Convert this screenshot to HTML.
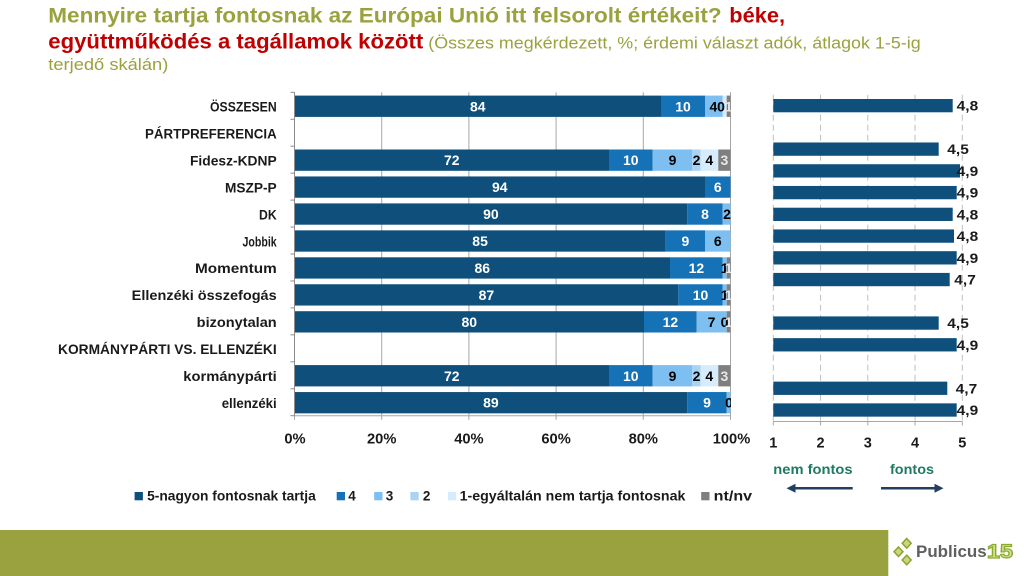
<!DOCTYPE html>
<html>
<head>
<meta charset="utf-8">
<style>
  html,body{margin:0;padding:0;background:#fff;}
  svg{display:block;}
  text{font-family:"Liberation Sans", "DejaVu Sans", sans-serif;}
  .b{font-weight:bold;}
</style>
</head>
<body>
<svg width="1024" height="576" viewBox="0 0 1024 576" xmlns="http://www.w3.org/2000/svg">
  <rect x="0" y="0" width="1024" height="576" fill="#ffffff"/>

  <!-- Title -->
  <text class="b" x="48.3" y="22.5" font-size="21" fill="#9aa23e" textLength="673.4" lengthAdjust="spacingAndGlyphs">Mennyire tartja fontosnak az Európai Unió itt felsorolt értékeit?</text>
  <text class="b" x="729.3" y="22.5" font-size="21" fill="#c00000" textLength="55.7" lengthAdjust="spacingAndGlyphs">béke,</text>
  <text class="b" x="48.3" y="48.5" font-size="21" fill="#c00000" textLength="375" lengthAdjust="spacingAndGlyphs">együttműködés a tagállamok között</text>
  <text x="428.3" y="48.5" font-size="16.5" fill="#9aa23e" textLength="492.4" lengthAdjust="spacingAndGlyphs">(Összes megkérdezett, %; érdemi választ adók, átlagok 1-5-ig</text>
  <text x="48.3" y="70" font-size="16.5" fill="#9aa23e" textLength="120" lengthAdjust="spacingAndGlyphs">terjedő skálán)</text>

  <!-- Left chart gridlines -->
  <g stroke="#a6a6a6" stroke-width="1">
    <line x1="381.7" y1="92.3" x2="381.7" y2="419.7"/>
    <line x1="468.9" y1="92.3" x2="468.9" y2="419.7"/>
    <line x1="556.1" y1="92.3" x2="556.1" y2="419.7"/>
    <line x1="643.3" y1="92.3" x2="643.3" y2="419.7"/>
    <line x1="730.5" y1="92.3" x2="730.5" y2="419.7"/>
    <line x1="294.5" y1="415.7" x2="730.5" y2="415.7"/>
    <line x1="294.5" y1="415.7" x2="294.5" y2="419.7"/>
  </g>
  <g stroke="#8c8c8c" stroke-width="1">
    <line x1="294.5" y1="92.3" x2="294.5" y2="415.7"/>
    <line x1="290.5" y1="92.3" x2="294.5" y2="92.3"/>
    <line x1="290.5" y1="119.25" x2="294.5" y2="119.25"/>
    <line x1="290.5" y1="146.2" x2="294.5" y2="146.2"/>
    <line x1="290.5" y1="173.15" x2="294.5" y2="173.15"/>
    <line x1="290.5" y1="200.1" x2="294.5" y2="200.1"/>
    <line x1="290.5" y1="227.05" x2="294.5" y2="227.05"/>
    <line x1="290.5" y1="254" x2="294.5" y2="254"/>
    <line x1="290.5" y1="280.95" x2="294.5" y2="280.95"/>
    <line x1="290.5" y1="307.9" x2="294.5" y2="307.9"/>
    <line x1="290.5" y1="334.85" x2="294.5" y2="334.85"/>
    <line x1="290.5" y1="361.8" x2="294.5" y2="361.8"/>
    <line x1="290.5" y1="388.75" x2="294.5" y2="388.75"/>
    <line x1="290.5" y1="415.7" x2="294.5" y2="415.7"/>
  </g>

  <defs>
    <clipPath id="plot"><rect x="294.5" y="90" width="436.5" height="330"/></clipPath>
  </defs>

  <!-- Left stacked bars -->
  <g clip-path="url(#plot)">
    <rect x="295" y="95.6" width="366" height="21.3" fill="#0e4f7b"/>
    <rect x="661" y="95.6" width="44" height="21.3" fill="#1572b6"/>
    <rect x="705" y="95.6" width="17.7" height="21.3" fill="#7dbff0"/>
    <rect x="722.7" y="95.6" width="4" height="21.3" fill="#d6ebfb"/>
    <rect x="726.7" y="95.6" width="3.8" height="21.3" fill="#7f7f7f"/>

    <rect x="295" y="149.5" width="314" height="21.3" fill="#0e4f7b"/>
    <rect x="609" y="149.5" width="43.7" height="21.3" fill="#1572b6"/>
    <rect x="652.7" y="149.5" width="39.6" height="21.3" fill="#7dbff0"/>
    <rect x="692.3" y="149.5" width="8.4" height="21.3" fill="#a9d3f5"/>
    <rect x="700.7" y="149.5" width="17.6" height="21.3" fill="#d6ebfb"/>
    <rect x="718.3" y="149.5" width="12.2" height="21.3" fill="#7f7f7f"/>

    <rect x="295" y="176.45" width="410" height="21.3" fill="#0e4f7b"/>
    <rect x="705" y="176.45" width="25.5" height="21.3" fill="#1572b6"/>

    <rect x="295" y="203.4" width="392.3" height="21.3" fill="#0e4f7b"/>
    <rect x="687.3" y="203.4" width="35.4" height="21.3" fill="#1572b6"/>
    <rect x="722.7" y="203.4" width="7.8" height="21.3" fill="#7dbff0"/>

    <rect x="295" y="230.35" width="370.7" height="21.3" fill="#0e4f7b"/>
    <rect x="665.7" y="230.35" width="39.3" height="21.3" fill="#1572b6"/>
    <rect x="705" y="230.35" width="25.5" height="21.3" fill="#7dbff0"/>

    <rect x="295" y="257.3" width="375" height="21.3" fill="#0e4f7b"/>
    <rect x="670" y="257.3" width="52.7" height="21.3" fill="#1572b6"/>
    <rect x="722.7" y="257.3" width="4" height="21.3" fill="#7dbff0"/>
    <rect x="726.7" y="257.3" width="3.8" height="21.3" fill="#7f7f7f"/>

    <rect x="295" y="284.25" width="383.3" height="21.3" fill="#0e4f7b"/>
    <rect x="678.3" y="284.25" width="44.4" height="21.3" fill="#1572b6"/>
    <rect x="722.7" y="284.25" width="4" height="21.3" fill="#7dbff0"/>
    <rect x="726.7" y="284.25" width="3.8" height="21.3" fill="#7f7f7f"/>

    <rect x="295" y="311.2" width="349" height="21.3" fill="#0e4f7b"/>
    <rect x="644" y="311.2" width="52.7" height="21.3" fill="#1572b6"/>
    <rect x="696.7" y="311.2" width="30" height="21.3" fill="#7dbff0"/>
    <rect x="726.7" y="311.2" width="3.8" height="21.3" fill="#7f7f7f"/>

    <rect x="295" y="365.1" width="314" height="21.3" fill="#0e4f7b"/>
    <rect x="609" y="365.1" width="43.7" height="21.3" fill="#1572b6"/>
    <rect x="652.7" y="365.1" width="39.6" height="21.3" fill="#7dbff0"/>
    <rect x="692.3" y="365.1" width="8.4" height="21.3" fill="#a9d3f5"/>
    <rect x="700.7" y="365.1" width="17.6" height="21.3" fill="#d6ebfb"/>
    <rect x="718.3" y="365.1" width="12.2" height="21.3" fill="#7f7f7f"/>

    <rect x="295" y="392.05" width="392.3" height="21.3" fill="#0e4f7b"/>
    <rect x="687.3" y="392.05" width="39.4" height="21.3" fill="#1572b6"/>
    <rect x="726.7" y="392.05" width="3.8" height="21.3" fill="#7dbff0"/>

    <g class="b" font-size="14" text-anchor="middle" font-weight="bold">
      <text x="477.8" y="111.25" fill="#fff">84</text>
      <text x="683" y="111.25" fill="#fff">10</text>
      <text x="713.4" y="111.25" fill="#000">4</text>
      <text x="721" y="111.25" fill="#000">0</text>
      <text x="728.7" y="111.25" fill="#e8e8e8">1</text>

      <text x="451.8" y="165.15" fill="#fff">72</text>
      <text x="630.8" y="165.15" fill="#fff">10</text>
      <text x="672.5" y="165.15" fill="#000">9</text>
      <text x="696.5" y="165.15" fill="#000">2</text>
      <text x="709.3" y="165.15" fill="#000">4</text>
      <text x="724.4" y="165.15" fill="#e8e8e8">3</text>

      <text x="499.8" y="192.1" fill="#fff">94</text>
      <text x="717.8" y="192.1" fill="#fff">6</text>

      <text x="490.9" y="219.05" fill="#fff">90</text>
      <text x="705" y="219.05" fill="#fff">8</text>
      <text x="727" y="219.05" fill="#000">2</text>

      <text x="480.1" y="246" fill="#fff">85</text>
      <text x="685.4" y="246" fill="#fff">9</text>
      <text x="717.8" y="246" fill="#000">6</text>

      <text x="482.3" y="272.95" fill="#fff">86</text>
      <text x="696.4" y="272.95" fill="#fff">12</text>
      <text x="724.7" y="272.95" fill="#000">1</text>
      <text x="728.7" y="272.95" fill="#e8e8e8">1</text>

      <text x="486.4" y="299.9" fill="#fff">87</text>
      <text x="700.5" y="299.9" fill="#fff">10</text>
      <text x="724.7" y="299.9" fill="#000">1</text>
      <text x="728.7" y="299.9" fill="#e8e8e8">1</text>

      <text x="469.3" y="326.85" fill="#fff">80</text>
      <text x="670.4" y="326.85" fill="#fff">12</text>
      <text x="711.5" y="326.85" fill="#000">7</text>
      <text x="724.5" y="326.85" fill="#000">0</text>
      <text x="728.7" y="326.85" fill="#e8e8e8">1</text>

      <text x="451.8" y="380.75" fill="#fff">72</text>
      <text x="630.8" y="380.75" fill="#fff">10</text>
      <text x="672.5" y="380.75" fill="#000">9</text>
      <text x="696.5" y="380.75" fill="#000">2</text>
      <text x="709.3" y="380.75" fill="#000">4</text>
      <text x="724.4" y="380.75" fill="#e8e8e8">3</text>

      <text x="490.9" y="407.7" fill="#fff">89</text>
      <text x="707" y="407.7" fill="#fff">9</text>
      <text x="729" y="407.7" fill="#000">0</text>
    </g>
  </g>

  <!-- Left category labels -->
  <g class="b" font-size="13.5" fill="#1a1a1a" font-weight="bold">
    <text x="210" y="111.5" textLength="66.7" lengthAdjust="spacingAndGlyphs">ÖSSZESEN</text>
    <text x="145" y="138.45" textLength="131.7" lengthAdjust="spacingAndGlyphs">PÁRTPREFERENCIA</text>
    <text x="190" y="165.4" textLength="86.7" lengthAdjust="spacingAndGlyphs">Fidesz-KDNP</text>
    <text x="225" y="192.35" textLength="51.7" lengthAdjust="spacingAndGlyphs">MSZP-P</text>
    <text x="259" y="219.3" textLength="17.7" lengthAdjust="spacingAndGlyphs">DK</text>
    <text x="242.5" y="246.25" textLength="34.2" lengthAdjust="spacingAndGlyphs">Jobbik</text>
    <text x="195" y="273.2" textLength="81.7" lengthAdjust="spacingAndGlyphs">Momentum</text>
    <text x="131.7" y="300.15" textLength="145" lengthAdjust="spacingAndGlyphs">Ellenzéki összefogás</text>
    <text x="196.7" y="327.1" textLength="80" lengthAdjust="spacingAndGlyphs">bizonytalan</text>
    <text x="58" y="354.05" textLength="218.7" lengthAdjust="spacingAndGlyphs">KORMÁNYPÁRTI VS. ELLENZÉKI</text>
    <text x="183.3" y="381" textLength="93.4" lengthAdjust="spacingAndGlyphs">kormánypárti</text>
    <text x="221.7" y="407.95" textLength="55" lengthAdjust="spacingAndGlyphs">ellenzéki</text>
  </g>

  <!-- Left x-axis labels -->
  <g class="b" font-size="14.7" fill="#1a1a1a" text-anchor="middle" font-weight="bold">
    <text x="295" y="443.3">0%</text>
    <text x="381.7" y="443.3">20%</text>
    <text x="468.9" y="443.3">40%</text>
    <text x="556.1" y="443.3">60%</text>
    <text x="643.3" y="443.3">80%</text>
    <text x="731.5" y="443.3">100%</text>
  </g>

  <!-- Right chart grid -->
  <g stroke="#c0c0c0" stroke-width="1" stroke-dasharray="6,4">
    <line x1="773.3" y1="94.8" x2="773.3" y2="421.5"/>
    <line x1="820.55" y1="94.8" x2="820.55" y2="421.5"/>
    <line x1="867.8" y1="94.8" x2="867.8" y2="421.5"/>
    <line x1="915.05" y1="94.8" x2="915.05" y2="421.5"/>
    <line x1="962.3" y1="94.8" x2="962.3" y2="421.5"/>
  </g>
  <g stroke="#a6a6a6" stroke-width="1">
    <line x1="773.3" y1="421.5" x2="962.3" y2="421.5"/>
    <line x1="773.3" y1="421.5" x2="773.3" y2="425.5"/>
    <line x1="820.55" y1="421.5" x2="820.55" y2="425.5"/>
    <line x1="867.8" y1="421.5" x2="867.8" y2="425.5"/>
    <line x1="915.05" y1="421.5" x2="915.05" y2="425.5"/>
    <line x1="962.3" y1="421.5" x2="962.3" y2="425.5"/>
  </g>

  <!-- Right bars -->
  <g fill="#0e4f7b">
    <rect x="773.3" y="99" width="179.4" height="13.3"/>
    <rect x="773.3" y="142.48" width="165.4" height="13.3"/>
    <rect x="773.3" y="164.22" width="186.7" height="13.3"/>
    <rect x="773.3" y="185.96" width="183.4" height="13.3"/>
    <rect x="773.3" y="207.7" width="179.4" height="13.3"/>
    <rect x="773.3" y="229.44" width="180.7" height="13.3"/>
    <rect x="773.3" y="251.18" width="183.4" height="13.3"/>
    <rect x="773.3" y="272.92" width="176.4" height="13.3"/>
    <rect x="773.3" y="316.4" width="165.4" height="13.3"/>
    <rect x="773.3" y="338.14" width="183.4" height="13.3"/>
    <rect x="773.3" y="381.62" width="174" height="13.3"/>
    <rect x="773.3" y="403.36" width="183.4" height="13.3"/>
  </g>
  <g class="b" font-size="14" fill="#1a1a1a" font-weight="bold">
    <text x="956.7" y="110.65" textLength="21.5" lengthAdjust="spacingAndGlyphs">4,8</text>
    <text x="947.3" y="154.13" textLength="21.5" lengthAdjust="spacingAndGlyphs">4,5</text>
    <text x="956.7" y="175.87" textLength="21.5" lengthAdjust="spacingAndGlyphs">4,9</text>
    <text x="956.7" y="197.61" textLength="21.5" lengthAdjust="spacingAndGlyphs">4,9</text>
    <text x="956.7" y="219.35" textLength="21.5" lengthAdjust="spacingAndGlyphs">4,8</text>
    <text x="956.7" y="241.09" textLength="21.5" lengthAdjust="spacingAndGlyphs">4,8</text>
    <text x="956.7" y="262.83" textLength="21.5" lengthAdjust="spacingAndGlyphs">4,9</text>
    <text x="954.3" y="284.57" textLength="21.5" lengthAdjust="spacingAndGlyphs">4,7</text>
    <text x="947.3" y="328.05" textLength="21.5" lengthAdjust="spacingAndGlyphs">4,5</text>
    <text x="956.7" y="349.79" textLength="21.5" lengthAdjust="spacingAndGlyphs">4,9</text>
    <text x="955.7" y="393.27" textLength="21.5" lengthAdjust="spacingAndGlyphs">4,7</text>
    <text x="956.7" y="415.01" textLength="21.5" lengthAdjust="spacingAndGlyphs">4,9</text>
  </g>

  <!-- Right axis labels -->
  <g class="b" font-size="14.5" fill="#1a1a1a" text-anchor="middle" font-weight="bold">
    <text x="773.3" y="447.5">1</text>
    <text x="820.55" y="447.5">2</text>
    <text x="867.8" y="447.5">3</text>
    <text x="915.05" y="447.5">4</text>
    <text x="962.3" y="447.5">5</text>
  </g>

  <!-- nem fontos / fontos -->
  <text class="b" x="773.3" y="474" font-size="14" fill="#1e7a62" font-weight="bold" textLength="79.3" lengthAdjust="spacingAndGlyphs">nem fontos</text>
  <text class="b" x="890" y="474" font-size="14" fill="#1e7a62" font-weight="bold" textLength="44" lengthAdjust="spacingAndGlyphs">fontos</text>
  <g stroke="#233f5f" stroke-width="2.5" fill="#233f5f">
    <line x1="794" y1="488.3" x2="852.7" y2="488.3"/>
    <line x1="881" y1="488.3" x2="936" y2="488.3"/>
  </g>
  <polygon points="786.5,488.3 795.5,483.8 795.5,492.8" fill="#233f5f"/>
  <polygon points="943.5,488.3 934.5,483.8 934.5,492.8" fill="#233f5f"/>

  <!-- Legend -->
  <rect x="134.6" y="492" width="8.3" height="8.3" fill="#0e4f7b"/>
  <text class="b" x="147.1" y="500.6" font-size="13.5" fill="#1a1a1a" font-weight="bold" textLength="168.7" lengthAdjust="spacingAndGlyphs">5-nagyon fontosnak tartja</text>
  <rect x="336.7" y="492" width="8.3" height="8.3" fill="#1572b6"/>
  <text class="b" x="348.3" y="500.6" font-size="13.5" fill="#1a1a1a" font-weight="bold">4</text>
  <rect x="374.2" y="492" width="8.3" height="8.3" fill="#7dbff0"/>
  <text class="b" x="385.8" y="500.6" font-size="13.5" fill="#1a1a1a" font-weight="bold">3</text>
  <rect x="410.4" y="492" width="8.3" height="8.3" fill="#a9d3f5"/>
  <text class="b" x="422.9" y="500.6" font-size="13.5" fill="#1a1a1a" font-weight="bold">2</text>
  <rect x="447.9" y="492" width="8.3" height="8.3" fill="#d6ebfb"/>
  <text class="b" x="459.6" y="500.6" font-size="13.5" fill="#1a1a1a" font-weight="bold" textLength="225.8" lengthAdjust="spacingAndGlyphs">1-egyáltalán nem tartja fontosnak</text>
  <rect x="701.2" y="492" width="8.3" height="8.3" fill="#7f7f7f"/>
  <text class="b" x="713.7" y="500.6" font-size="13.5" fill="#1a1a1a" font-weight="bold" textLength="38.4" lengthAdjust="spacingAndGlyphs">nt/nv</text>

  <!-- Footer -->
  <rect x="0" y="530" width="888.3" height="46" fill="#9aa13f"/>
  <g fill="#cbd77c" stroke="#8fa235" stroke-width="1.5">
    <polygon points="906.7,538.5 911.2,543.3 906.7,548.1 902.2,543.3"/>
    <polygon points="898.5,547 903,551.7 898.5,556.4 894,551.7"/>
    <polygon points="906.7,555.2 911.2,560 906.7,564.8 902.2,560"/>
  </g>
  <text class="b" x="916" y="557" font-size="17" fill="#5f5f5f" font-weight="bold" textLength="70.7" lengthAdjust="spacingAndGlyphs">Publicus</text>
  <text class="b" x="987" y="558" font-size="19" fill="#d3e296" stroke="#8cab2e" stroke-width="1.2" font-weight="bold" textLength="26" lengthAdjust="spacingAndGlyphs">15</text>
</svg>
</body>
</html>
